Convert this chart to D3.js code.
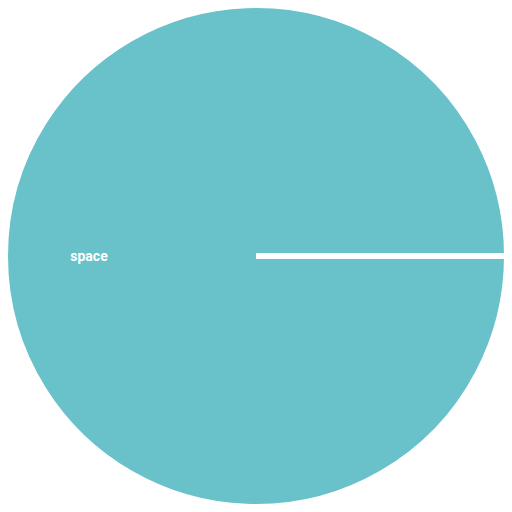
<!DOCTYPE html>
<html><head><meta charset="utf-8">
<script src="https://cdn.jsdelivr.net/npm/d3@7"></script>
<style>body{margin:0;background:#fff}</style>
</head><body>
<svg id="c" width="512" height="512"></svg>
<script>
const categories = ["space"];
const values = [1];
const colors = ["#69c2ca"];

const W = 512, H = 512, cx = 256, cy = 256, R = 251;
const svg = d3.select("#c");
const g = svg.append("g").attr("transform", `translate(${cx},${cy})`);
const pie = d3.pie().sort(null).value(d => d.v)
  .startAngle(Math.PI / 2).endAngle(Math.PI / 2 + 2 * Math.PI - 1e-4);
const data = categories.map((c, i) => ({c, v: values[i]}));
const arcs = pie(data);
const arc = d3.arc().innerRadius(0).outerRadius(R);
g.selectAll("path").data(arcs).join("path")
  .attr("d", arc)
  .attr("fill", (d, i) => colors[i])
  .attr("stroke", "#fff").attr("stroke-width", 6).attr("stroke-linejoin", "miter");
g.selectAll("text").data(arcs).join("text")
  .attr("x", -167).attr("y", 0)
  .attr("text-anchor", "middle").attr("dominant-baseline", "central")
  .attr("fill", "#fff").attr("font-family", "Roboto, sans-serif")
  .attr("font-weight", "bold").attr("font-size", 14)
  .text(d => d.data.c);
</script>
</body></html>
